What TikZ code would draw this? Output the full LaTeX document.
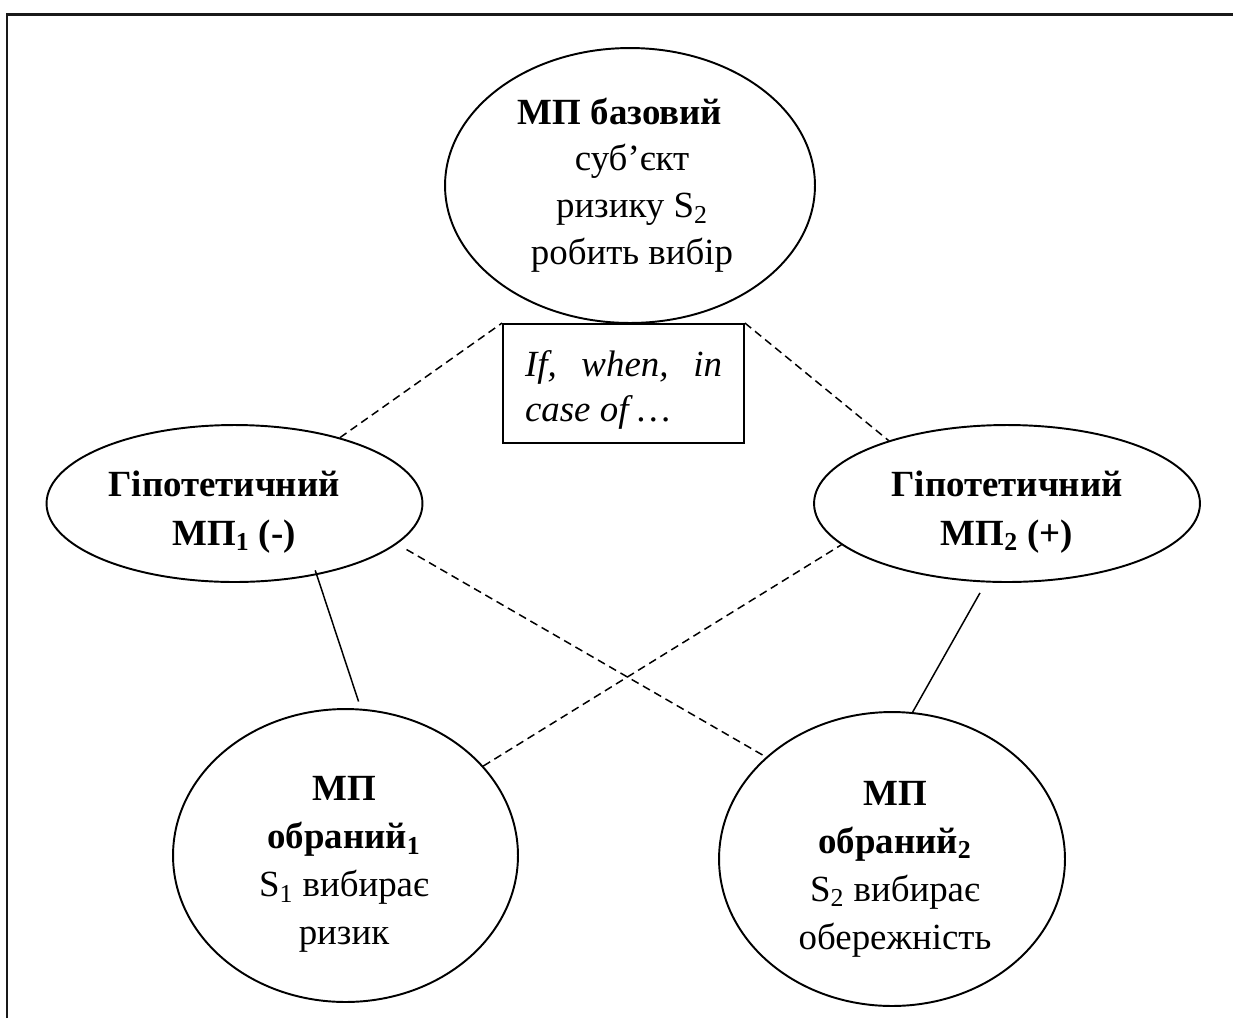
\documentclass[tikz,border=0pt]{standalone}
\usepackage{fontspec}
\setmainfont{Liberation Serif}
\usetikzlibrary{shapes.geometric}
\begin{document}
\begin{tikzpicture}[x=0.02cm,y=-0.02cm,
  outline/.style={draw, line width=1.1pt, inner sep=0pt},
  oval/.style={outline, ellipse},
  caption/.style={font=\fontsize{21}{27.3}\selectfont, align=center, inner sep=0pt},
  link/.style={line width=0.85pt},
  hint/.style={link, dash pattern=on 0.16cm off 0.1cm}]
\useasboundingbox (0,0) rectangle (1233,1018);
% frame
\draw[line width=0.06cm, black!90] (7,1018) -- (7,14) -- (1233,14);

% shapes
\node[oval, minimum width=7.4cm, minimum height=5.5cm] (base) at (630,185.5) {};
\node[oval, minimum width=7.52cm, minimum height=3.14cm] (hypL) at (234.5,503.5) {};
\node[oval, minimum width=7.72cm, minimum height=3.14cm] (hypR) at (1007,503.5) {};
\node[oval, minimum width=6.9cm, minimum height=5.86cm] (obrL) at (345.5,855.5) {};
\node[oval, minimum width=6.92cm, minimum height=5.88cm] (obrR) at (892,859) {};
\node[outline, rectangle, fill=white, minimum width=4.82cm, minimum height=2.38cm] (box) at (623.5,383.5) {};

% texts
\node[caption, font=\fontsize{21}{26.6}\selectfont] (baseT) at (632,185)
  {\textbf{МП базовий}\hspace*{0.48cm}\\суб’єкт\\ризику S\textsubscript{2}\\робить вибір};
\node[caption, font=\fontsize{21}{27.8}\selectfont] (hypLT) at (234,512)
  {\textbf{Гіпотетичний}\hspace*{0.4cm}\\\textbf{МП\textsubscript{1} (-)}};
\node[caption, font=\fontsize{21}{27.8}\selectfont] (hypRT) at (1007,512)
  {\textbf{Гіпотетичний}\\\textbf{МП\textsubscript{2} (+)}};
\node[caption] (obrLT) at (344,864.5)
  {\textbf{МП}\\\textbf{обраний\textsubscript{1}}\\S\textsubscript{1} вибирає\\ризик};
\node[caption] (obrRT) at (895,869)
  {\textbf{МП}\\\textbf{обраний\textsubscript{2}}\\S\textsubscript{2} вибирає\\обережність};
\node[caption, align=left, font=\fontsize{21}{26}\selectfont\itshape] (boxT) at (623.5,390)
  {\makebox[3.94cm][s]{If, when, in}\\case of …};

% connectors
\draw[hint] (hypL.32) -- (box.north west);
\draw[hint] (box.north east) -- (hypR.152.5);
\draw[hint, shorten <=0.22cm] (hypL.346) -- (obrR.141.7);
\draw[hint] (obrL.33) -- (hypR.194);
\draw[link, shorten <=-0.1cm, shorten >=0.15cm] (hypL.319.6) -- (obrL.84.4);
\draw[link, shorten <=0.24cm] (hypR.255) -- (obrR.82.25);
\end{tikzpicture}
\end{document}
